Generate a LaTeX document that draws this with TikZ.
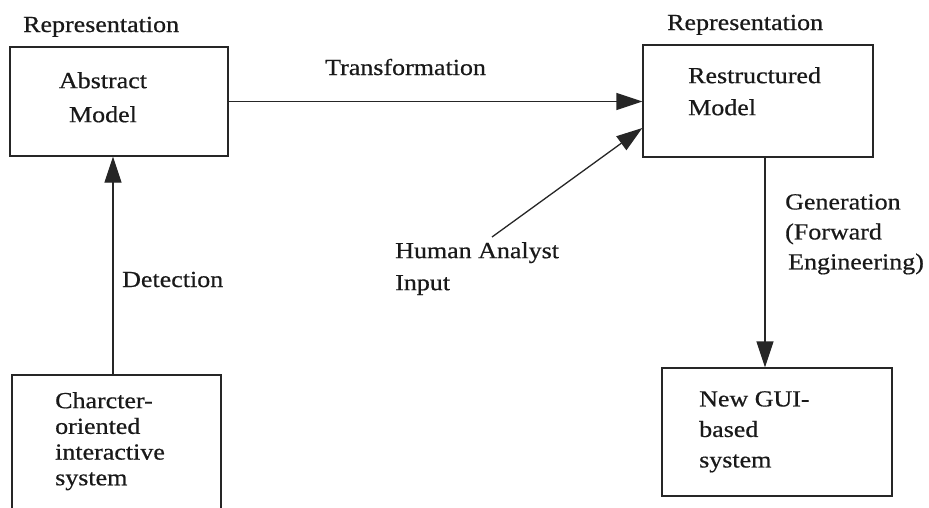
\documentclass[tikz,border=0pt]{standalone}
\usepackage{fontspec}
\setmainfont{Liberation Serif}[FakeStretch=1.13, FakeBold=0.6]
\usetikzlibrary{arrows.meta}

\tikzset{
  box/.style={draw=black!85, line width=1.3pt, rectangle, inner sep=0pt},
  conn/.style={draw=black!85, line width=1.3pt,
    -{Triangle[length=26pt,width=17pt]}},
  lbl/.style={inner sep=0pt, text=black!90},
  txt/.style={lbl, anchor=north west, align=left},
}

\begin{document}
\begin{tikzpicture}[x=1pt, y=-1pt,
  every node/.append style={font=\fontsize{23}{32}\selectfont}]
  \useasboundingbox (0,0) rectangle (929,507);

  % boxes
  \node[box, minimum width=218, minimum height=109] (abs) at (119,101.5) {};
  \node[box, minimum width=230, minimum height=112] (res) at (758,101) {};
  \node[box, minimum width=209, minimum height=137] (chr) at (116.5,443.5) {};
  \node[box, minimum width=230, minimum height=128] (gui) at (777,432) {};

  % headings above the two model boxes
  \node[lbl, anchor=base west] (rep1) at (23,32) {Representation};
  \node[lbl, anchor=base west] (rep2) at (667,30) {Representation};

  % box contents
  \node[lbl, anchor=north, align=center,
        font=\fontsize{23}{34}\selectfont] (absT) at (103,72) {Abstract\\Model};
  \node[txt] (resT) at (688,67) {Restructured\\Model};
  \node[txt, font=\fontsize{23}{25.7}\selectfont] (chrT) at (55,392)
        {Charcter-\\oriented\\interactive\\system};
  \node[txt, font=\fontsize{23}{30.5}\selectfont] (guiT) at (699,391)
        {New GUI-\\based\\system};

  % connector anchors
  \coordinate (detx) at (113,0);
  \coordinate (genx) at (765,0);
  \coordinate (hstart) at (492,237);
  \coordinate (hend) at (0,128);

  % connectors
  \draw[conn] (abs.east) -- (abs.east -| res.west);
  \draw[conn] (detx |- chr.north) -- (detx |- abs.south);
  \draw[conn] (genx |- res.south) -- (genx |- gui.north);
  \draw[conn] (hstart) -- (res.west |- hend);

  % connector labels
  \node[lbl, anchor=base west] (tLbl) at (325,75) {Transformation};
  \node[lbl, anchor=base west] (dLbl) at (122,287) {Detection};
  \node[txt] (hLbl) at (395,242) {Human Analyst\\Input};
  \node[txt, font=\fontsize{23}{30}\selectfont] (gLbl) at (785,194)
        {Generation\\(Forward\\\hspace*{3pt}Engineering)};
\end{tikzpicture}
\end{document}
